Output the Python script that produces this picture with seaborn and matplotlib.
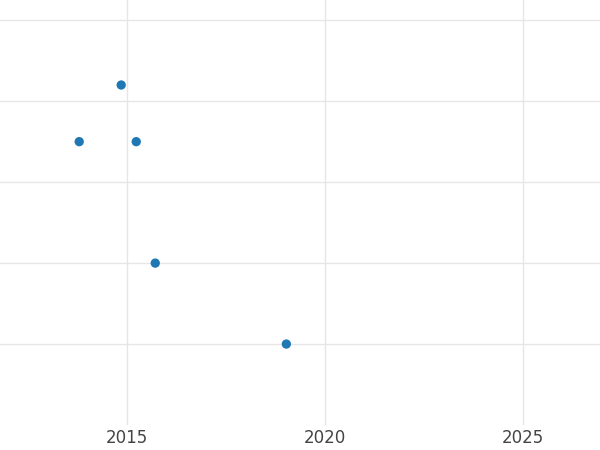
import matplotlib
matplotlib.use("Agg")
import matplotlib.pyplot as plt
import seaborn as sns
import pandas as pd

# values
years = [2013.79, 2014.85, 2015.23, 2015.71, 2019.02]
values = [3.5, 4.2, 3.5, 2.0, 1.0]

df = pd.DataFrame({"year": years, "value": values})

sns.set_style("white")
fig = plt.figure(figsize=(6, 4.5), dpi=100)
ax = fig.add_axes([0, 25 / 450, 1, 425 / 450])

sns.scatterplot(data=df, x="year", y="value", ax=ax, color="#1f77b4",
                s=45, edgecolor="none", zorder=3)

ax.set_xlim(2011.79, 2026.94)
ax.set_ylim(0, 5.25)
ax.set_xticks([2015, 2020, 2025])
ax.set_yticks([1, 2, 3, 4, 5])
ax.set_yticklabels([])
ax.grid(True, color="#e6e6e6", linewidth=1)
ax.tick_params(axis="x", length=0, labelsize=12, labelcolor="#444444", pad=3)
ax.tick_params(axis="y", length=0)
ax.set_xlabel("")
ax.set_ylabel("")
for s in ax.spines.values():
    s.set_visible(False)

fig.savefig("out.png", dpi=100)
